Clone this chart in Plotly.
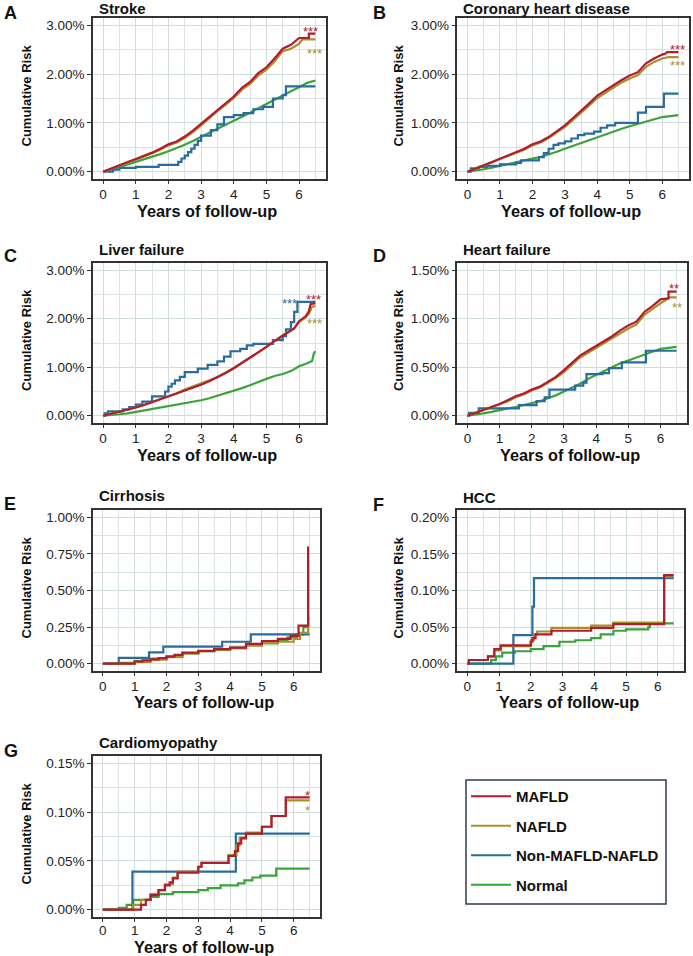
import plotly.graph_objects as go

# ---------------- data (cumulative risk, %) ----------------
SERIES = ["MAFLD", "NAFLD", "Non-MAFLD-NAFLD", "Normal"]
COLORS = ["#B31B2E", "#A8902A", "#2A6C9C", "#3AA33A"]

Q = [0, 0.25, 0.5, 0.75, 1.0, 1.25, 1.5, 1.75, 2.0, 2.25, 2.5, 2.75, 3.0,
     3.25, 3.5, 3.75, 4.0, 4.25, 4.5, 4.75, 5.0, 5.25, 5.5, 5.75, 6.0, 6.25, 6.5]

# A  Stroke
A_T_MAFLD = Q[:25] + [6.3, 6.3, 6.5]
A_MAFLD = [0, 0.07, 0.14, 0.20, 0.26, 0.32, 0.39, 0.47, 0.56, 0.62, 0.72, 0.84, 0.98,
           1.13, 1.27, 1.40, 1.54, 1.72, 1.84, 2.02, 2.14, 2.32, 2.52, 2.60, 2.74, 2.74, 2.83, 2.83]
A_T_NAFLD = Q[:25] + [6.1, 6.5]
A_NAFLD = [0, 0.06, 0.13, 0.19, 0.25, 0.31, 0.38, 0.45, 0.54, 0.60, 0.69, 0.81, 0.95,
           1.10, 1.24, 1.37, 1.51, 1.68, 1.80, 1.97, 2.09, 2.26, 2.47, 2.52, 2.62, 2.71, 2.71]
A_T_NON = [0, 0.3, 0.5, 1.0, 1.7, 2.3, 2.4, 2.5, 2.6, 2.7, 2.8, 2.9, 3.0, 3.3, 3.5, 3.7,
           4.0, 4.3, 4.6, 4.9, 5.2, 5.5, 5.6, 6.5]
A_NON = [0, 0.04, 0.08, 0.10, 0.14, 0.20, 0.27, 0.33, 0.40, 0.47, 0.55, 0.63, 0.74, 0.85,
         0.97, 1.12, 1.16, 1.20, 1.28, 1.33, 1.50, 1.57, 1.75, 1.75]
A_T_NORMAL = Q
A_NORMAL = [0, 0.04, 0.09, 0.15, 0.20, 0.25, 0.30, 0.36, 0.42, 0.48, 0.55, 0.63, 0.72,
            0.80, 0.88, 0.96, 1.04, 1.12, 1.21, 1.30, 1.39, 1.48, 1.57, 1.65, 1.73, 1.82, 1.87]

# B  Coronary heart disease
B_T_MAFLD = Q[:25] + [6.1, 6.15, 6.5]
B_MAFLD = [0, 0.06, 0.13, 0.20, 0.27, 0.33, 0.40, 0.47, 0.56, 0.62, 0.71, 0.83, 0.95,
           1.10, 1.24, 1.40, 1.56, 1.67, 1.77, 1.88, 1.97, 2.04, 2.22, 2.32, 2.40, 2.42, 2.45, 2.45]
B_T_NAFLD = Q[:25] + [6.2, 6.5]
B_NAFLD = [0, 0.06, 0.12, 0.19, 0.26, 0.32, 0.38, 0.45, 0.54, 0.60, 0.69, 0.80, 0.92,
           1.06, 1.20, 1.36, 1.51, 1.62, 1.72, 1.83, 1.91, 1.98, 2.15, 2.25, 2.32, 2.35, 2.35]
B_T_NON = [0, 0.1, 0.35, 0.6, 1.0, 1.5, 1.65, 2.2, 2.35, 2.5, 2.65, 2.8, 3.0, 3.2, 3.4,
           3.6, 3.9, 4.1, 4.3, 4.55, 5.25, 5.5, 6.05, 6.5]
B_NON = [0, 0.07, 0.10, 0.12, 0.15, 0.18, 0.23, 0.30, 0.38, 0.47, 0.55, 0.58, 0.62, 0.68,
         0.75, 0.78, 0.82, 0.90, 0.95, 1.00, 1.21, 1.33, 1.60, 1.60]
B_T_NORMAL = Q
B_NORMAL = [0, 0.02, 0.05, 0.08, 0.12, 0.16, 0.20, 0.24, 0.27, 0.30, 0.35, 0.41, 0.47,
            0.53, 0.59, 0.65, 0.71, 0.77, 0.83, 0.88, 0.93, 0.98, 1.03, 1.08, 1.12, 1.14, 1.16]

# C  Liver failure
C_T_MAFLD = Q[:24] + [5.85, 6.0, 6.1, 6.2, 6.3, 6.35, 6.5]
C_MAFLD = [0, 0.04, 0.08, 0.12, 0.17, 0.22, 0.28, 0.34, 0.40, 0.45, 0.52, 0.58, 0.64,
           0.71, 0.79, 0.88, 0.98, 1.09, 1.19, 1.30, 1.42, 1.54, 1.65, 1.75,
           1.80, 1.95, 2.00, 2.05, 2.15, 2.30, 2.32]
C_T_NAFLD = Q[:24] + [5.85, 6.0, 6.2, 6.3, 6.4, 6.5]
C_NAFLD = [0, 0.04, 0.08, 0.12, 0.17, 0.22, 0.28, 0.34, 0.41, 0.46, 0.54, 0.60, 0.66,
           0.73, 0.80, 0.89, 0.98, 1.09, 1.19, 1.30, 1.42, 1.54, 1.66, 1.76,
           1.80, 1.93, 2.03, 2.10, 2.25, 2.26]
C_T_NON = [0, 0.05, 0.15, 0.6, 0.8, 1.0, 1.2, 1.5, 1.9, 2.0, 2.1, 2.2, 2.35, 2.5, 2.9,
           3.2, 3.5, 3.7, 3.9, 4.2, 4.4, 4.6, 5.2, 5.5, 5.6, 5.75, 5.85, 5.95, 6.5]
C_NON = [0, 0.05, 0.09, 0.13, 0.18, 0.23, 0.29, 0.40, 0.50, 0.60, 0.66, 0.73, 0.80, 0.90,
         0.97, 1.05, 1.12, 1.22, 1.33, 1.38, 1.45, 1.48, 1.56, 1.64, 1.78, 1.93, 2.14, 2.35, 2.35]
C_T_NORMAL = Q[:26] + [6.4, 6.45, 6.5]
C_NORMAL = [0, 0.01, 0.03, 0.05, 0.08, 0.10, 0.13, 0.16, 0.19, 0.22, 0.25, 0.28, 0.32,
            0.36, 0.41, 0.46, 0.51, 0.57, 0.63, 0.70, 0.76, 0.82, 0.86, 0.92, 1.02, 1.08,
            1.13, 1.28, 1.33]

# D  Heart failure
D_T_MAFLD = Q[:26] + [6.25, 6.5]
D_MAFLD = [0, 0.03, 0.06, 0.09, 0.12, 0.16, 0.20, 0.23, 0.27, 0.30, 0.35, 0.40, 0.47,
           0.55, 0.62, 0.67, 0.72, 0.77, 0.82, 0.88, 0.93, 0.97, 1.07, 1.13, 1.20, 1.21, 1.28, 1.28]
D_T_NAFLD = Q[:25] + [6.3, 6.5]
D_NAFLD = [0, 0.03, 0.06, 0.09, 0.12, 0.15, 0.19, 0.22, 0.26, 0.29, 0.34, 0.39, 0.45,
           0.53, 0.60, 0.65, 0.70, 0.75, 0.80, 0.85, 0.90, 0.94, 1.04, 1.10, 1.16, 1.22, 1.22]
D_T_NON = [0, 0.05, 0.35, 1.6, 2.15, 2.4, 2.55, 3.35, 3.6, 3.7, 4.2, 4.4, 4.8, 5.55, 6.5]
D_NON = [0, 0.03, 0.075, 0.11, 0.15, 0.19, 0.27, 0.31, 0.34, 0.43, 0.44, 0.49, 0.55, 0.67, 0.67]
D_T_NORMAL = Q
D_NORMAL = [0, 0.01, 0.025, 0.04, 0.06, 0.075, 0.09, 0.11, 0.13, 0.15, 0.18, 0.21, 0.25,
            0.29, 0.33, 0.38, 0.42, 0.46, 0.50, 0.54, 0.57, 0.60, 0.63, 0.66, 0.69, 0.70, 0.71]

# E  Cirrhosis
E_T_MAFLD = [0, 0.7, 1.0, 1.25, 1.5, 1.75, 2.0, 2.25, 2.5, 3.0, 3.5, 4.0, 4.5, 5.0, 5.5,
             5.9, 6.15, 6.45, 6.45]
E_MAFLD = [0, 0, 0.015, 0.022, 0.03, 0.038, 0.048, 0.06, 0.075, 0.088, 0.10, 0.11, 0.135,
           0.155, 0.17, 0.19, 0.26, 0.26, 0.80]
E_T_NAFLD = [0, 0.7, 1.0, 1.5, 2.0, 2.5, 3.0, 3.5, 4.0, 4.5, 5.0, 5.5, 6.0, 6.2, 6.45, 6.45]
E_NAFLD = [0, 0, 0.012, 0.028, 0.045, 0.07, 0.085, 0.095, 0.105, 0.125, 0.14, 0.15, 0.17,
           0.21, 0.24, 0.70]
E_T_NON = [0, 0.5, 1.45, 1.9, 3.75, 4.65, 6.5]
E_NON = [0, 0.04, 0.077, 0.117, 0.15, 0.20, 0.20]
E_T_NORMAL = [0, 0.5, 1.0, 1.5, 2.0, 2.5, 3.0, 3.5, 4.0, 4.5, 5.0, 5.5, 5.8, 6.1, 6.3, 6.45, 6.5]
E_NORMAL = [0, 0.005, 0.02, 0.035, 0.05, 0.07, 0.085, 0.095, 0.11, 0.125, 0.14, 0.16, 0.18,
            0.20, 0.25, 0.31, 0.31]

# F  HCC
F_T_MAFLD = [0, 0.05, 0.65, 0.85, 1.05, 2.0, 2.05, 2.15, 2.65, 3.9, 4.6, 6.2, 6.5]
F_MAFLD = [0, 0.005, 0.01, 0.02, 0.025, 0.03, 0.035, 0.04, 0.045, 0.049, 0.054, 0.121, 0.121]
F_T_NAFLD = [0, 0.05, 0.65, 0.85, 1.05, 2.0, 2.1, 2.2, 2.65, 3.9, 4.6, 6.2, 6.5]
F_NAFLD = [0, 0.005, 0.01, 0.018, 0.024, 0.032, 0.04, 0.044, 0.049, 0.052, 0.056, 0.119, 0.119]
F_T_NON = [0, 1.45, 2.05, 2.1, 6.5]
F_NON = [0, 0.039, 0.078, 0.117, 0.117]
F_T_NORMAL = [0, 0.75, 0.9, 1.1, 1.5, 2.0, 2.4, 2.9, 3.4, 3.9, 4.2, 4.6, 5.0, 5.7, 5.75, 6.5]
F_NORMAL = [0, 0.005, 0.01, 0.015, 0.017, 0.02, 0.024, 0.03, 0.032, 0.035, 0.04, 0.045,
            0.047, 0.05, 0.055, 0.055]

# G  Cardiomyopathy
G_T_MAFLD = [0, 1.2, 1.35, 1.5, 1.75, 1.95, 2.1, 2.2, 2.35, 3.0, 3.1, 3.95, 4.15, 4.25,
             4.35, 4.5, 5.0, 5.3, 5.75, 6.5]
G_MAFLD = [0, 0.005, 0.01, 0.015, 0.02, 0.025, 0.028, 0.032, 0.038, 0.044, 0.048, 0.055,
           0.06, 0.068, 0.073, 0.078, 0.085, 0.096, 0.115, 0.115]
G_T_NAFLD = [0, 0.95, 1.2, 1.5, 1.75, 1.95, 2.2, 2.35, 3.0, 3.1, 3.95, 4.2, 4.3, 4.5, 5.0,
             5.3, 5.75, 6.5]
G_NAFLD = [0, 0.005, 0.01, 0.016, 0.02, 0.026, 0.033, 0.039, 0.044, 0.048, 0.056, 0.066,
           0.074, 0.079, 0.085, 0.096, 0.112, 0.112]
G_T_NON = [0, 0.93, 4.18, 6.5]
G_NON = [0, 0.039, 0.078, 0.078]
G_T_NORMAL = [0, 0.5, 0.75, 0.95, 1.5, 1.75, 2.2, 3.0, 3.3, 3.7, 4.25, 4.45, 4.7, 4.95, 5.45, 6.5]
G_NORMAL = [0, 0.002, 0.005, 0.01, 0.013, 0.016, 0.018, 0.02, 0.022, 0.025, 0.027, 0.03,
            0.033, 0.035, 0.042, 0.042]

TITLES = ["Stroke", "Coronary heart disease", "Liver failure", "Heart failure",
          "Cirrhosis", "HCC", "Cardiomyopathy"]
LETTERS = ["A", "B", "C", "D", "E", "F", "G"]
Y_DTICK = [1.0, 1.0, 1.0, 0.5, 0.25, 0.05, 0.05]
Y_MAX = [3.0, 3.0, 3.0, 1.5, 1.0, 0.2, 0.15]

# significance marks: (text, series index, x, y)
STARS = [
    [("***", 0, 6.34, 2.93), ("***", 1, 6.47, 2.49)],
    [("***", 0, 6.46, 2.56), ("***", 1, 6.47, 2.24)],
    [("***", 2, 5.70, 2.38), ("***", 0, 6.43, 2.46), ("***", 1, 6.47, 1.96)],
    [("**", 0, 6.43, 1.347), ("**", 1, 6.50, 1.15)],
    [],
    [],
    [("*", 0, 6.44, 0.120), ("*", 1, 6.44, 0.105)],
]

DATA = [
    [(A_T_MAFLD, A_MAFLD), (A_T_NAFLD, A_NAFLD), (A_T_NON, A_NON), (A_T_NORMAL, A_NORMAL)],
    [(B_T_MAFLD, B_MAFLD), (B_T_NAFLD, B_NAFLD), (B_T_NON, B_NON), (B_T_NORMAL, B_NORMAL)],
    [(C_T_MAFLD, C_MAFLD), (C_T_NAFLD, C_NAFLD), (C_T_NON, C_NON), (C_T_NORMAL, C_NORMAL)],
    [(D_T_MAFLD, D_MAFLD), (D_T_NAFLD, D_NAFLD), (D_T_NON, D_NON), (D_T_NORMAL, D_NORMAL)],
    [(E_T_MAFLD, E_MAFLD), (E_T_NAFLD, E_NAFLD), (E_T_NON, E_NON), (E_T_NORMAL, E_NORMAL)],
    [(F_T_MAFLD, F_MAFLD), (F_T_NAFLD, F_NAFLD), (F_T_NON, F_NON), (F_T_NORMAL, F_NORMAL)],
    [(G_T_MAFLD, G_MAFLD), (G_T_NAFLD, G_NAFLD), (G_T_NON, G_NON), (G_T_NORMAL, G_NORMAL)],
]
SMOOTH = [True, True, True, True, False, False, False]

# ---------------- layout geometry (pixels) ----------------
W, H = 693, 956
FONT = "Liberation Sans, Arial, sans-serif"
BOX = [  # left, right, top, bottom
    (92.5, 326, 18, 179), (457, 689, 18, 179),
    (92.5, 326, 263, 423), (457, 687, 263, 423),
    (92.5, 320, 510, 671), (457, 684, 510, 671),
    (92.5, 320, 756, 917),
]
LETTER_POS = [(2, 13), (371, 13), (2, 256), (371, 256), (2, 504), (371, 505), (2, 751)]
TITLE_POS = [(97, 8), (461, 8), (97, 249), (461, 249), (97, 495), (461, 497), (97, 742)]
YTITLE_X = [26, 398, 26, 398, 26, 398, 26]
XTITLE_OFF = [32, 32, 32, 32, 31, 31, 29.5]
XLABEL_STANDOFF = [-1, -1, -1, -1, -1, -1, -3]
LEGEND_BOX = (466, 666, 780, 904)

GRID = "#D1DCDC"
GRID_MINOR = "#DAE3E3"
AXC = "#333333"
TICKFONT = dict(family=FONT, size=13.5, color="#222")

fig = go.Figure()
layout = {}
annotations = []

for i in range(7):
    n = "" if i == 0 else str(i + 1)
    l, r, t, b = BOX[i]
    ymax = Y_MAX[i]
    pad = ymax * 0.05
    layout["xaxis" + n] = dict(
        domain=[l / W, r / W], range=[-0.325, 6.825], anchor="y" + n,
        tickmode="linear", tick0=0, dtick=1, ticks="outside", ticklen=3.5, tickwidth=1,
        tickcolor=AXC, showline=True, mirror=True, linecolor=AXC, linewidth=1.5,
        showgrid=True, gridcolor=GRID, gridwidth=1.2, zeroline=False,
        ticklabelstandoff=XLABEL_STANDOFF[i],
        minor=dict(tickmode="linear", tick0=0, dtick=0.5, showgrid=True,
                   gridcolor=GRID_MINOR, gridwidth=0.9, ticks=""),
        tickfont=TICKFONT, fixedrange=True,
    )
    layout["yaxis" + n] = dict(
        domain=[1 - b / H, 1 - t / H], range=[-pad, ymax + pad], anchor="x" + n,
        tickmode="linear", tick0=0, dtick=Y_DTICK[i], tickformat=".2f", ticksuffix="%",
        ticks="outside", ticklen=3.5, tickwidth=1, tickcolor=AXC,
        showline=True, mirror=True, linecolor=AXC, linewidth=1.5,
        showgrid=True, gridcolor=GRID, gridwidth=1.2, zeroline=False,
        minor=dict(tickmode="linear", tick0=0, dtick=Y_DTICK[i] / 2, showgrid=True,
                   gridcolor=GRID_MINOR, gridwidth=0.9, ticks=""),
        tickfont=TICKFONT, fixedrange=True,
    )
    # traces: draw Normal, Non, NAFLD, MAFLD (MAFLD on top)
    for s in [3, 2, 1, 0]:
        tt, vv = DATA[i][s]
        shape = "linear" if (SMOOTH[i] and s != 2) else "hv"
        fig.add_trace(go.Scatter(
            x=tt, y=vv, mode="lines", name=SERIES[s],
            line=dict(color=COLORS[s], width=2.2, shape=shape),
            xaxis="x" + n, yaxis="y" + n,
            showlegend=(i == 0), legendrank=s + 1, legendgroup=SERIES[s],
            hoverinfo="skip",
        ))
    lx, ly = LETTER_POS[i]
    annotations.append(dict(text=LETTERS[i], x=lx / W, y=1 - ly / H, xref="paper", yref="paper",
                            xanchor="left", yanchor="middle", showarrow=False,
                            font=dict(family=FONT, size=18, color="#111", weight="bold")))
    tx, ty = TITLE_POS[i]
    annotations.append(dict(text=TITLES[i], x=tx / W, y=1 - ty / H, xref="paper", yref="paper",
                            xanchor="left", yanchor="middle", showarrow=False,
                            font=dict(family=FONT, size=15, color="#111", weight="bold")))
    annotations.append(dict(text="Cumulative Risk", x=YTITLE_X[i] / W, y=1 - ((t + b) / 2 - 3) / H,
                            xref="paper", yref="paper", xanchor="center", yanchor="middle",
                            textangle=-90, showarrow=False,
                            font=dict(family=FONT, size=13, color="#111", weight="bold")))
    annotations.append(dict(text="Years of follow-up", x=((l + r) / 2 - 2) / W,
                            y=1 - (b + XTITLE_OFF[i]) / H,
                            xref="paper", yref="paper", xanchor="center", yanchor="middle",
                            showarrow=False,
                            font=dict(family=FONT, size=16.3, color="#111", weight="bold")))
    for txt, s, sx, sy in STARS[i]:
        annotations.append(dict(text=txt, x=sx, y=sy, xref="x" + n, yref="y" + n,
                                xanchor="center", yanchor="middle", yshift=-3, showarrow=False,
                                font=dict(family=FONT, size=13, color=COLORS[s])))

lb_l, lb_r, lb_t, lb_b = LEGEND_BOX
layout.update(
    width=W, height=H, margin=dict(l=0, r=0, t=0, b=0),
    paper_bgcolor="white", plot_bgcolor="white",
    annotations=annotations,
    shapes=[dict(type="rect", xref="paper", yref="paper",
                 x0=lb_l / W, x1=lb_r / W, y0=1 - lb_b / H, y1=1 - lb_t / H,
                 line=dict(color="#2F3D4C", width=1.5), fillcolor="rgba(0,0,0,0)")],
    legend=dict(x=lb_l / W, y=1 - lb_t / H, xanchor="left", yanchor="top",
                borderwidth=0, bgcolor="rgba(0,0,0,0)",
                font=dict(family=FONT, size=15, color="#111", weight="bold"),
                tracegroupgap=7, itemwidth=40, traceorder="grouped"),
)
fig.update_layout(**layout)
fig.write_html("out.html", config={"displayModeBar": False},
               post_script="document.body.style.margin='0px';document.body.style.overflow='hidden';")
